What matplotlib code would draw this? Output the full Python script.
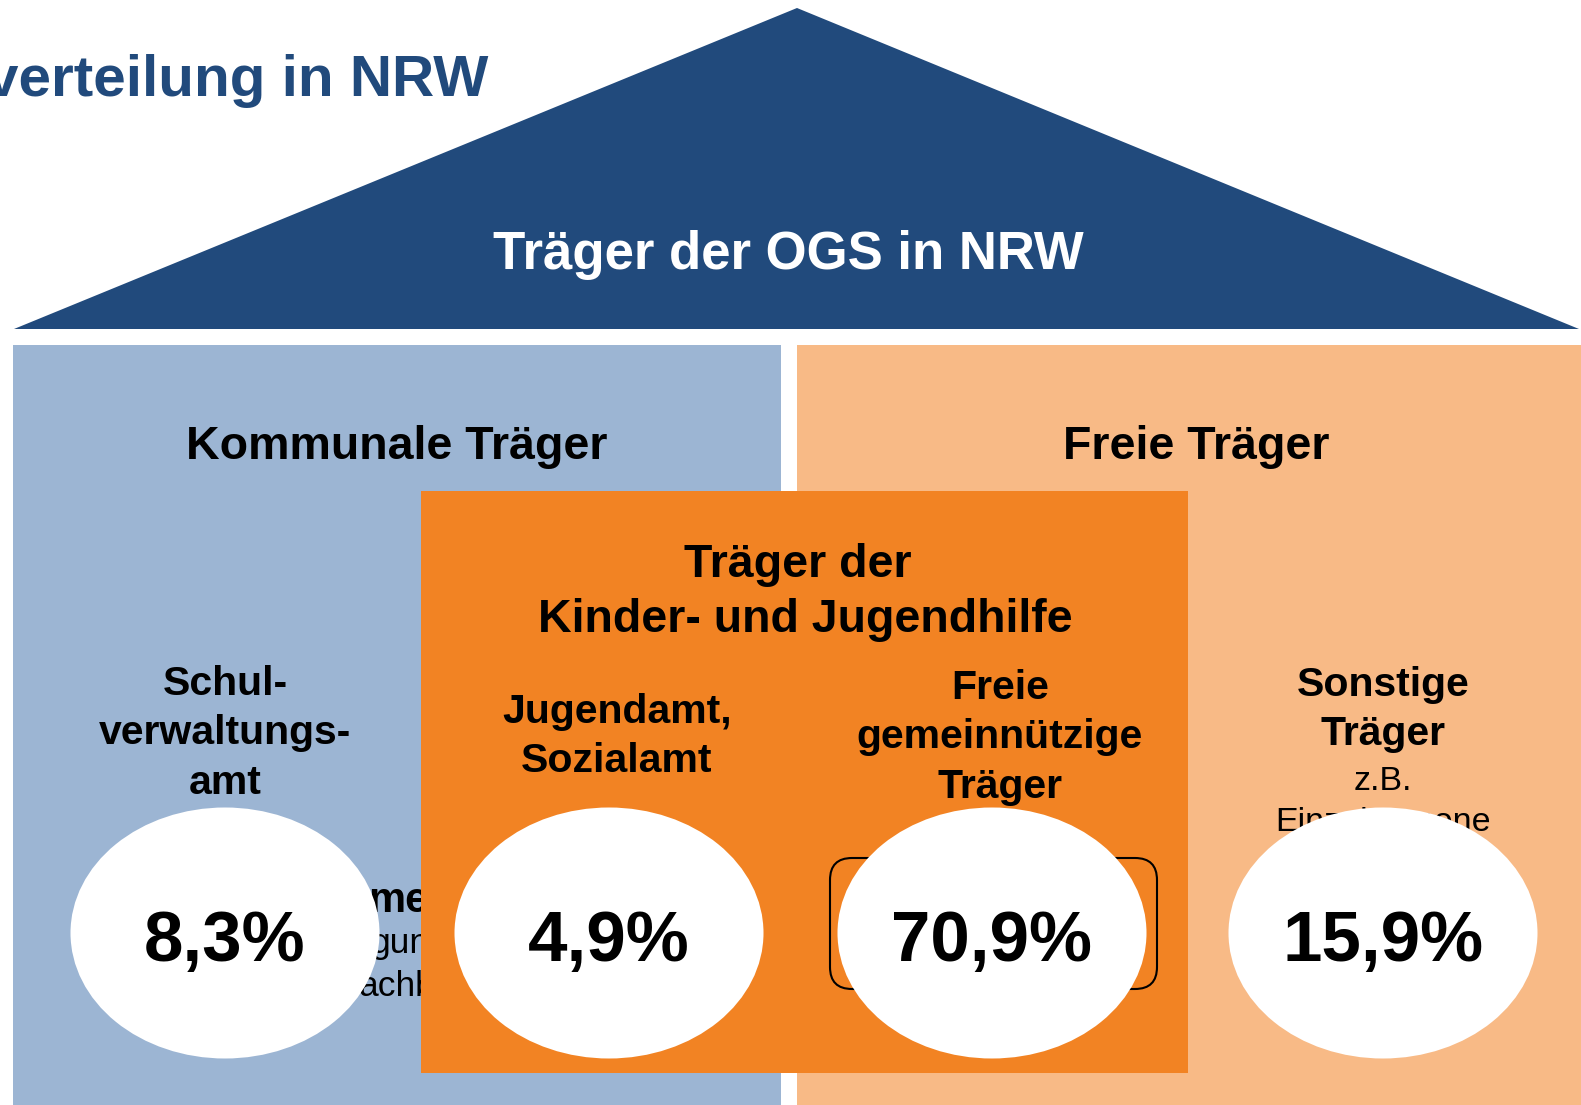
import matplotlib
matplotlib.use('Agg')
import matplotlib.pyplot as plt
from matplotlib.patches import Polygon, Rectangle, Ellipse, FancyBboxPatch

plt.rcParams['font.family'] = ['Liberation Sans', 'DejaVu Sans']

# Daten
titel = 'verteilung in NRW'
dach = 'Träger der OGS in NRW'
bereiche = ['Kommunale Träger', 'Freie Träger']
jugendhilfe = ['Träger der', 'Kinder- und Jugendhilfe']
traeger = [['Schul-', 'verwaltungs-', 'amt'],
           ['Jugendamt,', 'Sozialamt'],
           ['Freie', 'gemeinnützige', 'Träger'],
           ['Sonstige', 'Träger']]
sonstige_info = ['z.B.', 'Einzelpersone']
verdeckt = ['me', 'gung', 'achbereich']
anteile = [8.3, 4.9, 70.9, 15.9]

# Farben
navy = '#214a7c'
hellblau = '#9cb5d3'
pfirsich = '#f8ba86'
orange = '#f28323'

W, H = 1581, 1105
fig = plt.figure(figsize=(W / 100, H / 100), dpi=100)
ax = fig.add_axes([0, 0, 1, 1])
ax.set_xlim(0, W)
ax.set_ylim(H, 0)
ax.axis('off')

# Dach und Flaechen
ax.add_patch(Polygon([(14, 329), (797, 8), (1579, 329)], closed=True, fc=navy, ec='none', zorder=1))
ax.add_patch(Rectangle((13, 345), 768, H - 345, fc=hellblau, ec='none', zorder=1))
ax.add_patch(Rectangle((797, 345), W - 797, H - 345, fc=pfirsich, ec='none', zorder=1))
ax.add_patch(Rectangle((421, 491), 767, 582, fc=orange, ec='none', zorder=2))
ax.add_patch(FancyBboxPatch((830, 858), 327, 131, boxstyle='round,pad=0,rounding_size=22',
                            fill=False, ec='black', lw=1.5, zorder=3))

# Ueberschriften
ax.text(488, 96, titel, color=navy, fontsize=42, fontweight='bold', ha='right', va='baseline', zorder=5)
ax.text(788, 269, dach, color='white', fontsize=38, fontweight='bold', ha='center', va='baseline', zorder=5)
ax.text(397, 459, bereiche[0], fontsize=33.5, fontweight='bold', ha='center', va='baseline', zorder=5)
ax.text(1196, 459, bereiche[1], fontsize=33.5, fontweight='bold', ha='center', va='baseline', zorder=5)
for zeile, x, y in zip(jugendhilfe, [798, 805], [577, 632]):
    ax.text(x, y, zeile, fontsize=33.5, fontweight='bold', ha='center', va='baseline', zorder=5)

# Traegerarten
spalten_x = [225, 617, 1000, 1383]
start_y = [695, 723, 699, 696]
for x, y0, zeilen in zip(spalten_x, start_y, traeger):
    for i, zeile in enumerate(zeilen):
        ax.text(x, y0 + i * 49.4, zeile, fontsize=29.5, fontweight='bold', ha='center', va='baseline', zorder=5)

for zeile, y in zip(sonstige_info, [790, 831]):
    ax.text(1383, y, zeile, fontsize=24.5, ha='center', va='baseline', zorder=3)

# teilweise verdeckter Text links
ax.text(368, 912, verdeckt[0], fontsize=30, fontweight='bold', ha='left', va='baseline', zorder=1.5)
ax.text(371, 953, verdeckt[1], fontsize=25.5, ha='left', va='baseline', zorder=1.5)
ax.text(358, 996, verdeckt[2], fontsize=25.5, ha='left', va='baseline', zorder=1.5)

# Ellipsen mit Anteilen
ellipse_x = [225, 609, 992, 1383]
for x, wert in zip(ellipse_x, anteile):
    ax.add_patch(Ellipse((x, 933), 309, 251, fc='white', ec='none', zorder=4))
    label = f'{wert:.1f}%'.replace('.', ',')
    ax.text(x, 961, label, fontsize=51, fontweight='bold', ha='center', va='baseline', zorder=5)

fig.savefig('out.png', dpi=100)
